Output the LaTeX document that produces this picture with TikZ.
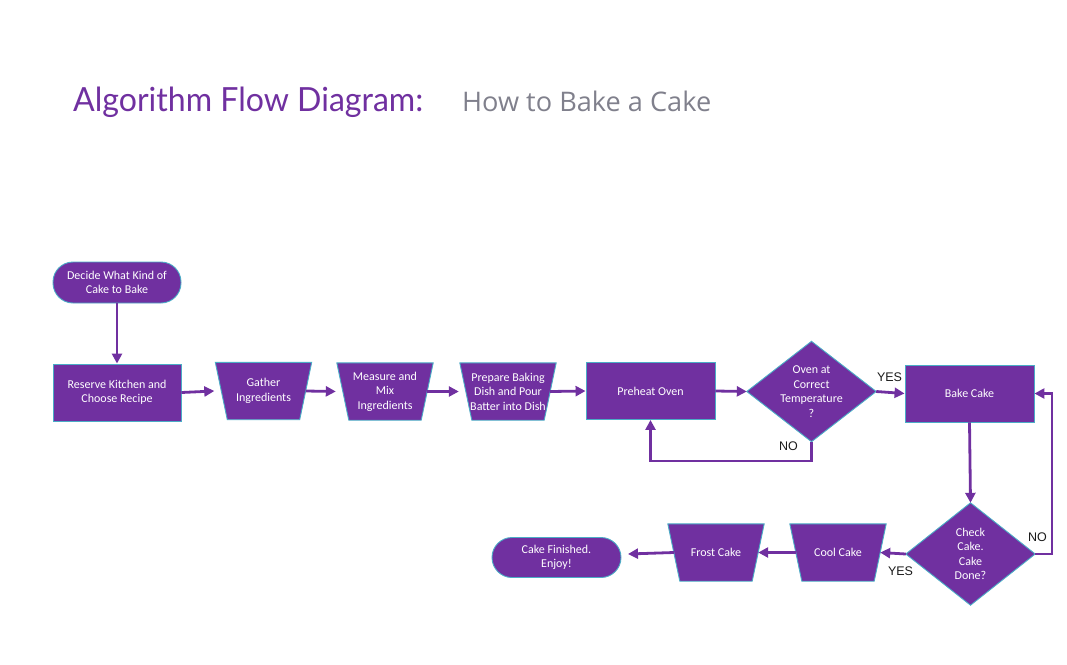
\documentclass[tikz,border=0pt]{standalone}
\usepackage{fontspec}
\usepackage{graphicx}
\setmainfont{Carlito}
\newfontfamily\titlefont{Lato}
\newfontfamily\subfont{Open Sans}
\newfontfamily\lblfont{Liberation Sans}
\usetikzlibrary{arrows.meta,backgrounds}
\definecolor{purp}{HTML}{7030A0}
\definecolor{teal}{HTML}{4BACC6}
\definecolor{subgray}{HTML}{80808C}
\definecolor{lbl}{HTML}{1A1A1A}
\tikzset{
  box/.style={draw=teal,line width=0.9pt,fill=purp,text=white,font=\fontsize{12}{14.5}\selectfont,align=center,inner sep=0pt,minimum width=128pt,minimum height=57pt},
  term/.style={box,rounded corners=20pt,minimum height=41pt},
  txt/.style={text=white,font=\fontsize{12}{14.5}\selectfont,align=center,inner sep=0pt},
  trapnode/.style={txt,minimum width=96pt,minimum height=57pt},
  decnode/.style={txt,minimum width=129pt,minimum height=100pt},
  shp/.style={draw=teal,line width=0.9pt,fill=purp},
  arr/.style={draw=purp,line width=2.8pt,-{Triangle[length=10pt,width=10pt]}},
  lab/.style={text=lbl,font=\lblfont\fontsize{12.5}{14}\selectfont,inner sep=0pt}
}
\begin{document}
\begin{tikzpicture}[x=1pt,y=-1pt]
\useasboundingbox (0,0) rectangle (1067,664);
% title
\node[anchor=base west,inner sep=0pt,text=purp] (title) at (73,111) {\resizebox{350pt}{24.5pt}{\titlefont Algorithm Flow Diagram:}};
\node[anchor=base west,inner sep=0pt,text=subgray] (subtitle) at (462,111.5) {\resizebox{249pt}{20.5pt}{\subfont How to Bake a Cake}};
% nodes
\node[term] (start) at (117,282.5) {Decide What Kind of\\Cake to Bake};
\node[box] (reserve) at (117,392.5) {Reserve Kitchen and\\Choose Recipe};
\node[trapnode] (gather) at (263.5,391) {Gather\\Ingredients};
\node[trapnode] (measure) at (385,391.5) {Measure and\\Mix\\Ingredients};
\node[trapnode] (prepare) at (508,391.5) {Prepare Baking\\Dish and Pour\\Batter into Dish};
\node[box,minimum width=129pt] (preheat) at (650.5,391) {Preheat Oven};
\node[decnode] (oven) at (811.5,391.5) {Oven at\\Correct\\Temperature\\?};
\node[box,minimum width=129pt] (bake) at (969.5,393.5) {Bake Cake};
\node[decnode,minimum height=102pt] (check) at (970.5,554) {Check\\Cake.\\Cake\\Done?};
\node[trapnode] (cool) at (838,552.5) {Cool Cake};
\node[trapnode] (frost) at (716,552.5) {Frost Cake};
\node[term,minimum width=129pt,minimum height=40pt] (finish) at (556.5,557.5) {Cake Finished.\\Enjoy!};
% shapes on background
\begin{scope}[on background layer]
\foreach \n in {gather,measure,prepare,cool,frost}{
  \filldraw[shp] (\n.north west) -- (\n.north east) -- ([xshift=-12pt]\n.south east) -- ([xshift=12pt]\n.south west) -- cycle;
}
\foreach \n in {oven,check}{
  \filldraw[shp] (\n.north) -- (\n.east) -- (\n.south) -- (\n.west) -- cycle;
}
\end{scope}
% connectors
\coordinate (loopL) at (650.5,461);
\coordinate (loopR) at (1052,554);
\coordinate (finR) at (628,554);
\draw[arr] (start) -- (reserve);
\draw[arr] (reserve.east) -- ([xshift=-1pt]gather.west);
\draw[arr] ([xshift=-6pt]gather.east) -- ([xshift=-1pt]measure.west);
\draw[arr] ([xshift=-6pt]measure.east) -- ([xshift=-1pt]prepare.west);
\draw[arr] ([xshift=-6pt]prepare.east) -- (preheat.west);
\draw[arr] (preheat.east) -- (oven.west);
\draw[arr] (oven.east) -- (bake.west);
\draw[arr] (oven.south) |- (loopL) -- (preheat.south);
\draw[arr] (bake.south) -- (check.north);
\draw[arr] (check.east) -- (loopR) |- (bake.east);
\draw[arr] (check.west) -- ([xshift=-6pt]cool.east);
\draw[arr] ([xshift=6pt]cool.west) -- ([xshift=-6pt]frost.east);
\draw[arr] ([xshift=6pt]frost.west) -- (finR);
% labels
\node[lab] (yes1) at (889.5,377) {YES};
\node[lab] (no1) at (788.5,446) {NO};
\node[lab] (no2) at (1037.5,537) {NO};
\node[lab] (yes2) at (900.5,571) {YES};
\end{tikzpicture}
\end{document}
